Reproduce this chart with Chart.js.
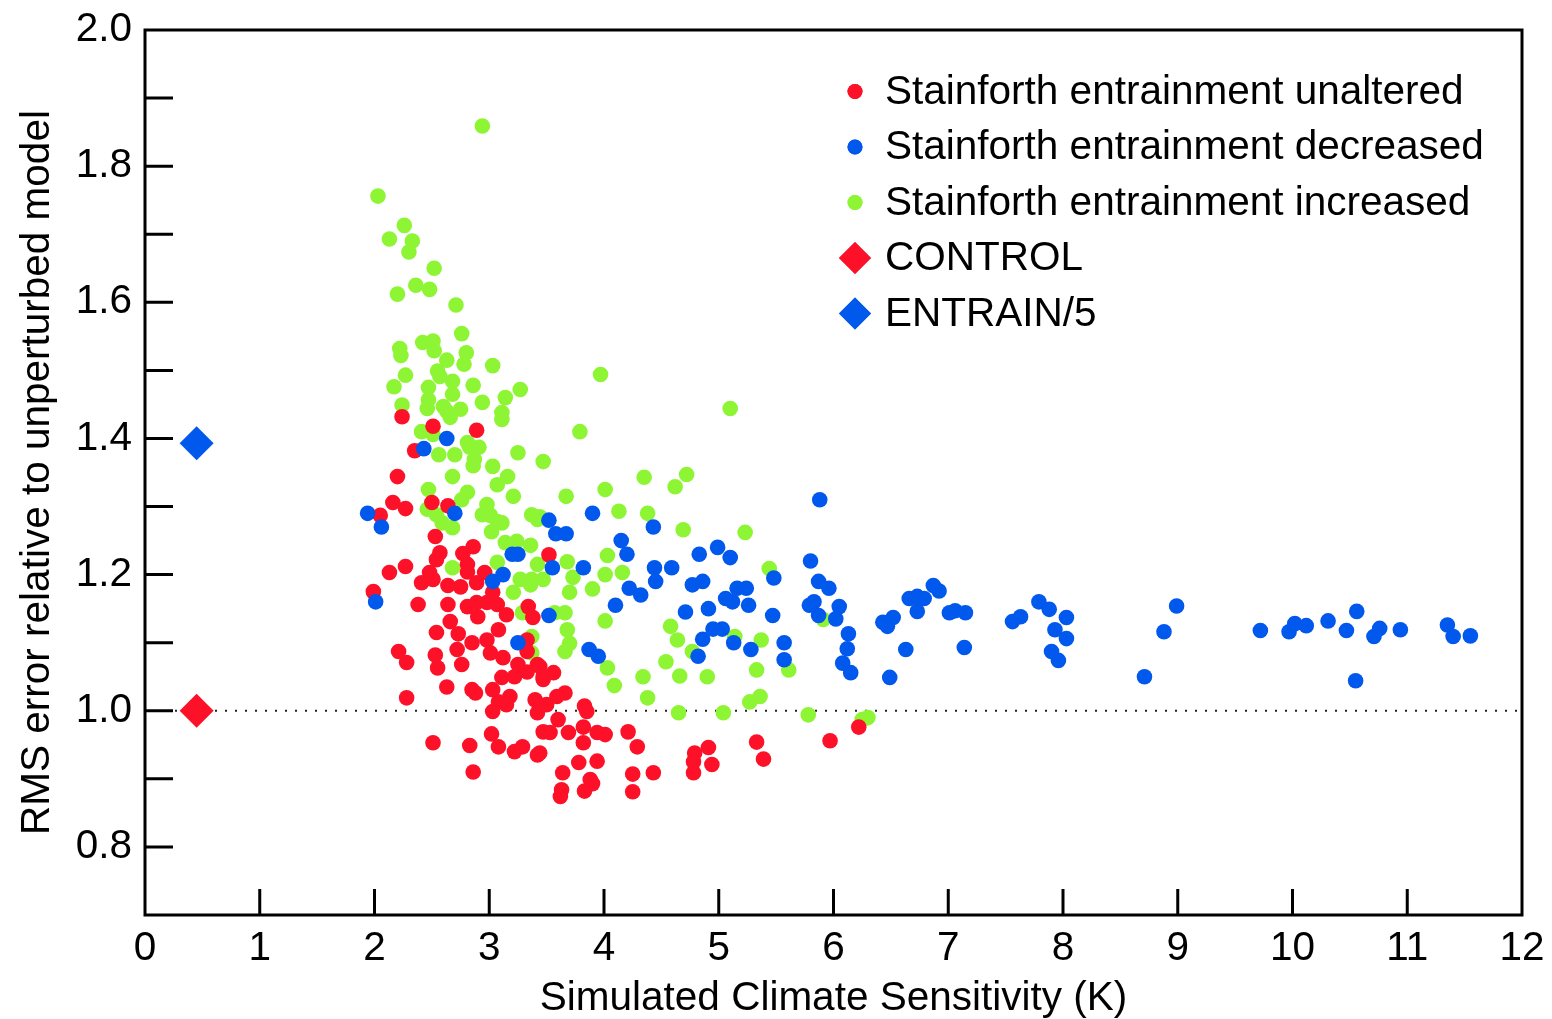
<!DOCTYPE html>
<html>
<head>
<meta charset="utf-8">
<script src="https://cdn.jsdelivr.net/npm/chart.js@4/dist/chart.umd.min.js"></script>
<style>
  html, body { margin: 0; padding: 0; background: #fff; }
  #wrap { width: 1552px; height: 1019px; }
</style>
</head>
<body>
<div id="wrap"><canvas id="sensChart"></canvas></div>
<script>
// climate sensitivity (K), RMS error relative to unperturbed model
const unaltered = [
  [2.24,1.432],[2.51,1.418],[2.89,1.412],[2.35,1.382],[2.20,1.344],[2.16,1.306],[2.27,1.297],
  [2.05,1.287],[2.50,1.306],[2.64,1.301],[2.53,1.256],[2.86,1.241],[2.77,1.231],[2.57,1.232],
  [2.54,1.222],[2.27,1.212],[2.13,1.203],[2.48,1.203],[2.51,1.193],[2.81,1.215],[2.81,1.204],
  [2.96,1.203],[2.41,1.188],[2.75,1.182],[2.64,1.184],[1.99,1.175],[3.52,1.229],[2.89,1.188],
  [2.38,1.156],[2.64,1.156],[2.81,1.153],[2.89,1.159],[2.98,1.159],[2.90,1.138],[3.03,1.174],
  [3.07,1.156],[3.15,1.141],[3.34,1.153],[3.38,1.137],[2.66,1.131],[2.54,1.115],[2.73,1.113],
  [2.85,1.100],[2.72,1.090],[2.21,1.087],[2.28,1.071],[2.53,1.082],[2.55,1.063],[2.76,1.068],
  [2.98,1.104],[3.08,1.119],[3.01,1.085],[3.12,1.078],[3.33,1.104],[3.33,1.087],[3.42,1.068],
  [3.25,1.068],[3.11,1.049],[3.22,1.050],[3.33,1.057],[3.47,1.050],[2.63,1.035],[2.85,1.031],
  [2.88,1.026],[3.03,1.031],[3.08,1.013],[3.18,1.021],[3.15,1.009],[3.03,0.999],[2.28,1.019],
  [3.40,1.016],[3.42,0.997],[3.47,0.969],[3.02,0.966],[3.08,0.947],[2.51,0.953],[2.83,0.949],
  [2.86,0.910],[3.22,0.940],[3.29,0.947],[3.42,0.935],[3.53,0.968],[3.44,1.065],[3.56,1.056],
  [3.47,1.046],[3.66,1.026],[3.59,1.021],[3.50,1.009],[3.83,1.007],[3.85,0.999],[3.60,0.987],
  [3.69,0.968],[3.82,0.976],[3.94,0.968],[4.01,0.965],[4.21,0.969],[3.82,0.953],[4.29,0.947],
  [3.44,0.938],[3.78,0.924],[3.94,0.926],[3.64,0.909],[3.88,0.899],[3.90,0.893],[3.83,0.882],
  [3.63,0.884],[3.62,0.874],[4.25,0.907],[4.43,0.909],[4.25,0.881],[4.79,0.938],[4.91,0.946],
  [4.78,0.925],[4.78,0.909],[4.94,0.921],[5.33,0.954],[5.39,0.929],[5.97,0.956],[6.22,0.976]
];

const decreased = [
  [1.94,1.290],[2.06,1.270],[2.01,1.160],[2.43,1.385],[2.63,1.400],[2.70,1.290],[3.03,1.190],
  [3.12,1.200],[3.20,1.230],[3.25,1.230],[3.25,1.100],[3.52,1.280],[3.55,1.210],[3.52,1.140],
  [3.58,1.260],[3.67,1.260],[3.90,1.290],[3.82,1.210],[3.87,1.090],[3.95,1.080],[4.10,1.155],
  [4.15,1.250],[4.20,1.230],[4.22,1.180],[4.32,1.170],[4.43,1.270],[4.44,1.210],[4.45,1.190],
  [4.59,1.210],[4.71,1.145],[4.77,1.185],[4.86,1.190],[4.83,1.230],[4.99,1.240],[5.10,1.225],
  [4.82,1.080],[4.86,1.105],[4.91,1.150],[4.95,1.120],[5.03,1.120],[5.06,1.165],[5.13,1.100],
  [5.16,1.180],[5.12,1.160],[5.24,1.180],[5.26,1.155],[5.28,1.090],[5.48,1.195],[5.47,1.140],
  [5.57,1.100],[5.57,1.075],[5.80,1.220],[5.83,1.160],[5.87,1.140],[5.88,1.310],[5.87,1.190],
  [5.96,1.180],[5.79,1.155],[6.05,1.153],[6.02,1.135],[6.13,1.113],[6.12,1.091],[6.08,1.070],
  [6.15,1.056],[6.43,1.130],[6.47,1.124],[6.52,1.137],[6.66,1.165],[6.73,1.168],[6.79,1.165],
  [6.73,1.146],[6.87,1.184],[6.92,1.176],[7.01,1.144],[7.06,1.147],[7.15,1.144],[6.63,1.090],
  [7.14,1.093],[6.49,1.049],[7.56,1.131],[7.63,1.138],[7.79,1.160],[7.88,1.149],[8.03,1.137],
  [7.93,1.119],[8.03,1.106],[7.90,1.087],[7.96,1.074],[8.99,1.154],[8.88,1.116],[8.71,1.050],
  [9.72,1.118],[9.97,1.116],[10.02,1.128],[10.12,1.125],[10.31,1.132],[10.47,1.118],[10.56,1.146],
  [10.55,1.044],[10.71,1.109],[10.76,1.121],[10.94,1.119],[11.35,1.126],[11.40,1.109],[11.55,1.110]
];

const increased = [
  [2.94,1.859],[2.03,1.756],[2.26,1.713],[2.13,1.693],[2.33,1.690],[2.30,1.674],[2.52,1.650],
  [2.36,1.625],[2.48,1.619],[2.20,1.612],[2.71,1.596],[2.76,1.554],[2.42,1.541],[2.51,1.543],
  [2.52,1.529],[2.22,1.532],[2.23,1.522],[2.80,1.526],[2.63,1.515],[2.78,1.509],[3.03,1.507],
  [2.27,1.493],[2.55,1.499],[2.57,1.491],[2.68,1.484],[2.17,1.476],[2.47,1.475],[2.86,1.478],
  [3.27,1.472],[2.47,1.457],[2.68,1.465],[3.14,1.460],[2.24,1.449],[2.46,1.444],[2.60,1.447],
  [2.63,1.440],[2.75,1.443],[2.66,1.431],[2.94,1.453],[3.11,1.438],[3.11,1.428],[2.41,1.410],
  [2.51,1.406],[2.81,1.394],[2.83,1.387],[2.91,1.387],[2.56,1.376],[2.70,1.376],[2.87,1.369],
  [2.86,1.360],[3.03,1.359],[3.25,1.379],[3.47,1.366],[3.16,1.344],[2.68,1.344],[2.47,1.325],
  [2.81,1.321],[3.07,1.332],[2.76,1.310],[3.21,1.315],[2.46,1.296],[2.54,1.288],[2.98,1.303],
  [2.94,1.288],[3.01,1.287],[3.07,1.278],[3.11,1.276],[2.59,1.276],[2.68,1.269],[3.02,1.263],
  [3.14,1.247],[3.24,1.249],[3.36,1.243],[3.37,1.288],[3.42,1.281],[3.07,1.218],[3.42,1.215],
  [3.27,1.193],[3.37,1.193],[3.47,1.193],[3.97,1.494],[5.10,1.444],[3.79,1.410],[4.35,1.343],
  [4.72,1.347],[4.62,1.329],[4.01,1.325],[3.67,1.315],[4.13,1.293],[4.38,1.290],[4.69,1.266],
  [5.23,1.262],[3.44,1.285],[4.03,1.228],[3.68,1.219],[4.01,1.200],[4.16,1.203],[3.73,1.196],
  [3.90,1.179],[3.70,1.174],[3.66,1.144],[3.57,1.144],[4.01,1.132],[3.68,1.119],[3.70,1.099],
  [3.66,1.087],[4.58,1.124],[4.64,1.104],[4.77,1.087],[4.54,1.072],[4.66,1.051],[4.90,1.050],
  [4.34,1.050],[4.03,1.063],[4.09,1.037],[4.38,1.019],[4.65,0.997],[5.04,0.997],[5.27,1.013],
  [5.33,1.060],[5.14,1.109],[5.44,1.209],[5.91,1.134],[5.37,1.104],[5.61,1.060],[5.36,1.021],
  [5.78,0.994],[6.30,0.990],[6.25,0.987],[3.21,1.174],[3.36,1.185],[3.29,1.144],[3.37,1.109],
  [3.37,1.085],[2.68,1.210]
];

const control = [[0.45, 1.0]];
const entrain5 = [[0.45, 1.393]];

const xTicks = [0, 1, 2, 3, 4, 5, 6, 7, 8, 9, 10, 11, 12];
const yLabels = [0.8, 1.0, 1.2, 1.4, 1.6, 1.8, 2.0];

const RED = '#fd1128';
const BLUE = '#0058ec';
const GREEN = '#8ef534';
const FONT = "'Liberation Sans', Arial, Helvetica, sans-serif";
const FSIZE = 40.5;

const toPts = arr => arr.map(p => ({x: p[0], y: p[1]}));

const legendItems = [
  {text: 'Stainforth entrainment unaltered', color: RED, style: 'circle'},
  {text: 'Stainforth entrainment decreased', color: BLUE, style: 'circle'},
  {text: 'Stainforth entrainment increased', color: GREEN, style: 'circle'},
  {text: 'CONTROL', color: RED, style: 'rectRot'},
  {text: 'ENTRAIN/5', color: BLUE, style: 'rectRot'}
];

// frame, inward ticks, dotted 1.0 line and the legend
const decor = {
  id: 'decor',
  beforeDatasetsDraw(chart) {
    const {ctx, chartArea: a, scales: {y}} = chart;
    const yy = y.getPixelForValue(1.0);
    ctx.save();
    ctx.strokeStyle = '#222';
    ctx.lineWidth = 2;
    ctx.setLineDash([2, 8]);
    ctx.beginPath();
    ctx.moveTo(a.left + 30, yy);
    ctx.lineTo(a.right - 4, yy);
    ctx.stroke();
    ctx.restore();
  },
  afterDraw(chart) {
    const {ctx, chartArea: a, scales: {x, y}} = chart;
    ctx.save();
    ctx.strokeStyle = '#000';
    ctx.lineWidth = 3;
    ctx.strokeRect(a.left, a.top, a.right - a.left, a.bottom - a.top);
    ctx.beginPath();
    y.ticks.forEach(t => {
      const py = y.getPixelForValue(t.value);
      if (py <= a.top + 2 || py >= a.bottom - 2) return;
      ctx.moveTo(a.left, py);
      ctx.lineTo(a.left + 28, py);
    });
    x.ticks.forEach(t => {
      const px = x.getPixelForValue(t.value);
      if (px <= a.left + 2 || px >= a.right - 2) return;
      ctx.moveTo(px, a.bottom);
      ctx.lineTo(px, a.bottom - 26);
    });
    ctx.stroke();

    ctx.font = FSIZE + 'px ' + FONT;
    ctx.textBaseline = 'middle';
    ctx.textAlign = 'left';
    legendItems.forEach((it, i) => {
      const cy = 91.5 + i * 55.5;
      ctx.fillStyle = it.color;
      Chart.helpers.drawPoint(ctx, {pointStyle: it.style, radius: it.style === 'circle' ? 7.5 : 16, rotation: 0, borderWidth: 0}, 855, cy);
      ctx.fill();
      ctx.fillStyle = '#000';
      ctx.fillText(it.text, 885, cy + 1);
    });
    ctx.restore();
  }
};

const ctx = document.getElementById('sensChart').getContext('2d');

const dot = (label, data, color, order) => ({
  label: label,
  data: toPts(data),
  backgroundColor: color,
  borderWidth: 0,
  pointRadius: 7.8,
  pointHoverRadius: 7.8,
  order: order
});

new Chart(ctx, {
  type: 'scatter',
  data: {
    datasets: [
      dot('Stainforth entrainment unaltered', unaltered, RED, 2),
      dot('Stainforth entrainment decreased', decreased, BLUE, 1),
      dot('Stainforth entrainment increased', increased, GREEN, 3),
      {label: 'CONTROL', data: toPts(control), backgroundColor: RED, borderWidth: 0,
       pointStyle: 'rectRot', pointRadius: 17, order: 0},
      {label: 'ENTRAIN/5', data: toPts(entrain5), backgroundColor: BLUE, borderWidth: 0,
       pointStyle: 'rectRot', pointRadius: 17, order: 0}
    ]
  },
  options: {
    responsive: true,
    maintainAspectRatio: false,
    animation: false,
    layout: {padding: {top: 30, right: 30, left: 0, bottom: 0}},
    plugins: {
      legend: {display: false},
      tooltip: {enabled: false}
    },
    scales: {
      x: {
        type: 'linear',
        min: 0,
        max: 12,
        afterBuildTicks: s => { s.ticks = xTicks.map(v => ({value: v})); },
        afterFit: s => { s.height = 104; s.paddingLeft = 0; s.paddingRight = 0; },
        grid: {display: false, drawTicks: false},
        border: {display: false},
        ticks: {
          padding: 10,
          color: '#000',
          font: {family: FONT, size: FSIZE},
          callback: v => String(v)
        },
        title: {
          display: true,
          text: 'Simulated Climate Sensitivity (K)',
          color: '#000',
          font: {family: FONT, size: FSIZE, lineHeight: 1.0},
          padding: {top: 0, bottom: 0}
        }
      },
      y: {
        min: 0.7,
        max: 2.0,
        afterFit: s => { s.width = 145; s.paddingTop = 0; s.paddingBottom = 0; },
        grid: {display: false, drawTicks: false},
        border: {display: false},
        ticks: {
          stepSize: 0.1,
          padding: 13,
          color: '#000',
          font: {family: FONT, size: FSIZE},
          callback: v => {
            const r = Math.round(v * 10) / 10;
            return yLabels.some(l => Math.abs(l - r) < 1e-6) ? r.toFixed(1) : '';
          }
        },
        title: {
          display: true,
          text: 'RMS error relative to unperturbed model',
          color: '#000',
          font: {family: FONT, size: FSIZE, lineHeight: 1.0},
          padding: {top: 18, bottom: 0}
        }
      }
    }
  },
  plugins: [decor]
});
</script>
</body>
</html>
